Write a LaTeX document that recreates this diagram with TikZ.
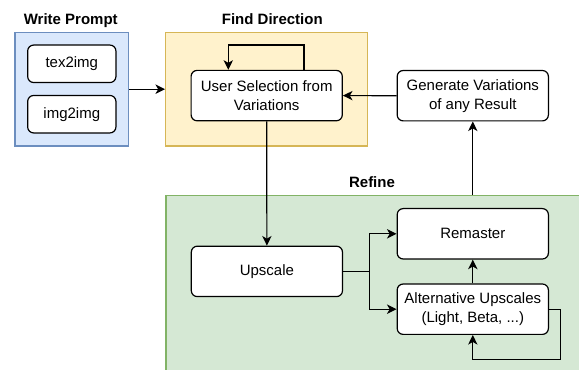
\documentclass[tikz,border=0pt]{standalone}
\usepackage{fontspec}
\setmainfont{Liberation Sans}
\usetikzlibrary{arrows.meta}
\pgfdeclarelayer{bottom}
\pgfdeclarelayer{back}
\pgfsetlayers{bottom,back,main}
\definecolor{bluefill}{HTML}{DAE8FC}
\definecolor{bluedraw}{HTML}{6C8EBF}
\definecolor{yelfill}{HTML}{FFF2CC}
\definecolor{yeldraw}{HTML}{D6B656}
\definecolor{grnfill}{HTML}{D5E8D4}
\definecolor{grndraw}{HTML}{82B366}
\tikzset{
  boxfont/.style={font=\fontsize{11.25}{14.25}\selectfont},
  stepbox/.style={boxfont, draw=black, fill=white, rounded corners=4.5pt, line width=0.9pt,
    align=center, inner sep=0pt, minimum width=113.4pt, minimum height=37.8pt},
  smallbox/.style={stepbox, minimum width=66.2pt, minimum height=28.1pt},
  container/.style={line width=0.9pt, inner sep=0pt},
  title/.style={font=\fontsize{11.25}{14}\selectfont\bfseries, anchor=base, inner sep=0pt},
  arr/.style={line width=0.9pt, -{Stealth[length=7.2pt,width=7pt,inset=2pt]}},
  ln/.style={line width=0.9pt}
}
\begin{document}
\begin{tikzpicture}[x=0.75pt,y=-0.75pt]
\useasboundingbox (0,0) rectangle (579,370);

\begin{pgfonlayer}{bottom}
\fill[white] (0,0) rectangle (579,370);
\end{pgfonlayer}

% containers
\begin{pgfonlayer}{back}
\node[container, draw=bluedraw, fill=bluefill, minimum width=85.3pt, minimum height=85.3pt] (write) at (71.8,89.2) {};
\node[container, draw=yeldraw, fill=yelfill, minimum width=151.5pt, minimum height=85.3pt] (find) at (266.7,89.2) {};
\node[container, draw=grndraw, fill=grnfill, minimum width=325.5pt, minimum height=153.5pt] (refine) at (383,297.65) {};
\end{pgfonlayer}

% titles
\node[title] (twrite) at (70.8,25) {Write Prompt};
\node[title] (tfind) at (272.3,25) {Find Direction};
\node[title] (trefine) at (372,187.3) {Refine};

% nodes
\node[smallbox] (tex) at (71.8,63.8) {tex2img};
\node[smallbox] (img) at (71.8,114.2) {img2img};
\node[stepbox] (user) at (266.7,95.6) {User Selection from\\Variations};
\node[stepbox] (gen) at (472.8,95.7) {Generate Variations\\of any Result};
\node[stepbox] (up) at (266.9,271.4) {Upscale};
\node[stepbox] (rem) at (472.8,233.8) {Remaster};
\node[stepbox] (alt) at (472.8,309.2) {Alternative Upscales\\(Light, Beta, ...)};

% helper coordinates
\coordinate (ul) at (228.3,45);
\coordinate (ur) at (304,45);
\coordinate (br) at (369.3,271.4);
\coordinate (altloop) at (560.7,359.3);

% connectors
\draw[arr] (write.east) -- (find.west);
\draw[arr] (user.north -| ur) -- (ur) -- (ul) -- (user.north -| ul);
\draw[arr] (gen.west) -- (user.east);
\draw[arr] (user.south) -- (up.north);
\draw[ln] (up.east) -- (br);
\draw[arr] (br) |- (rem.west);
\draw[arr] (br) |- (alt.west);
\draw[arr] (alt.north) -- (rem.south);
\draw[arr] (alt.east) -| (altloop) -| (alt.south);
\begin{pgfonlayer}{bottom}
\draw[arr] (rem.north) -- (gen.south);
\end{pgfonlayer}
\end{tikzpicture}
\end{document}
